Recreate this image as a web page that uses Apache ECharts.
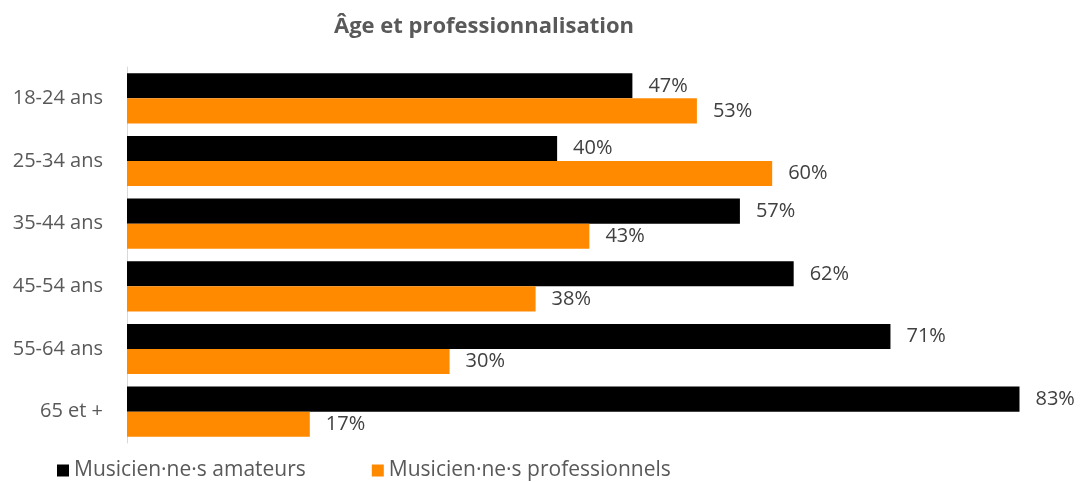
<!DOCTYPE html>
<html>
<head>
<meta charset="utf-8">
<script src="https://cdn.jsdelivr.net/npm/echarts@6/dist/echarts.min.js"></script>
<style>
  html, body { margin: 0; padding: 0; background: #fff; }
  #chart { width: 1083px; height: 482px; }
</style>
</head>
<body>
<div id="chart"></div>
<script>
// Age groups and share of each status (%)
const categories = ['18-24 ans', '25-34 ans', '35-44 ans', '45-54 ans', '55-64 ans', '65 et +'];
const amateurs = [47, 40, 57, 62, 71, 83];
const professionnels = [53, 60, 43, 38, 30, 17];
const seriesNames = ['Musicien·ne·s amateurs', 'Musicien·ne·s professionnels'];
const titleText = 'Âge et professionnalisation';

const font = 'Open Sans, Noto Sans, sans-serif';
const chart = echarts.init(document.getElementById('chart'), null, { renderer: 'canvas' });

const labelStyle = {
  show: true,
  position: 'right',
  distance: 16,
  formatter: '{c}%',
  color: '#404040',
  fontSize: 20,
  fontFamily: font
};

chart.setOption({
  animation: false,
  title: {
    text: titleText,
    left: 479,
    textAlign: 'center',
    top: 11,
    textStyle: { color: '#595959', fontSize: 22, fontWeight: 'bold', fontFamily: font }
  },
  legend: {
    bottom: -4,
    left: 52,
    itemWidth: 12,
    itemHeight: 12,
    itemGap: 66,
    icon: 'rect',
    textStyle: { color: '#595959', fontSize: 21, fontFamily: font },
    data: seriesNames
  },
  grid: { left: 127, right: 42, top: 67, bottom: 39, containLabel: false },
  xAxis: {
    type: 'value',
    min: 0,
    max: 85,
    show: false
  },
  yAxis: {
    type: 'category',
    inverse: true,
    data: categories,
    axisLine: { show: true, lineStyle: { color: '#d9d9d9', width: 1 } },
    axisTick: { show: false },
    axisLabel: { color: '#595959', fontSize: 20, fontFamily: font, margin: 24 }
  },
  series: [
    {
      name: seriesNames[0],
      type: 'bar',
      data: amateurs,
      barGap: '0%',
      barCategoryGap: '20%',
      itemStyle: { color: '#000000' },
      label: labelStyle
    },
    {
      name: seriesNames[1],
      type: 'bar',
      data: professionnels,
      barGap: '0%',
      barCategoryGap: '20%',
      itemStyle: { color: '#FF8A00' },
      label: labelStyle
    }
  ]
});
</script>
</body>
</html>
